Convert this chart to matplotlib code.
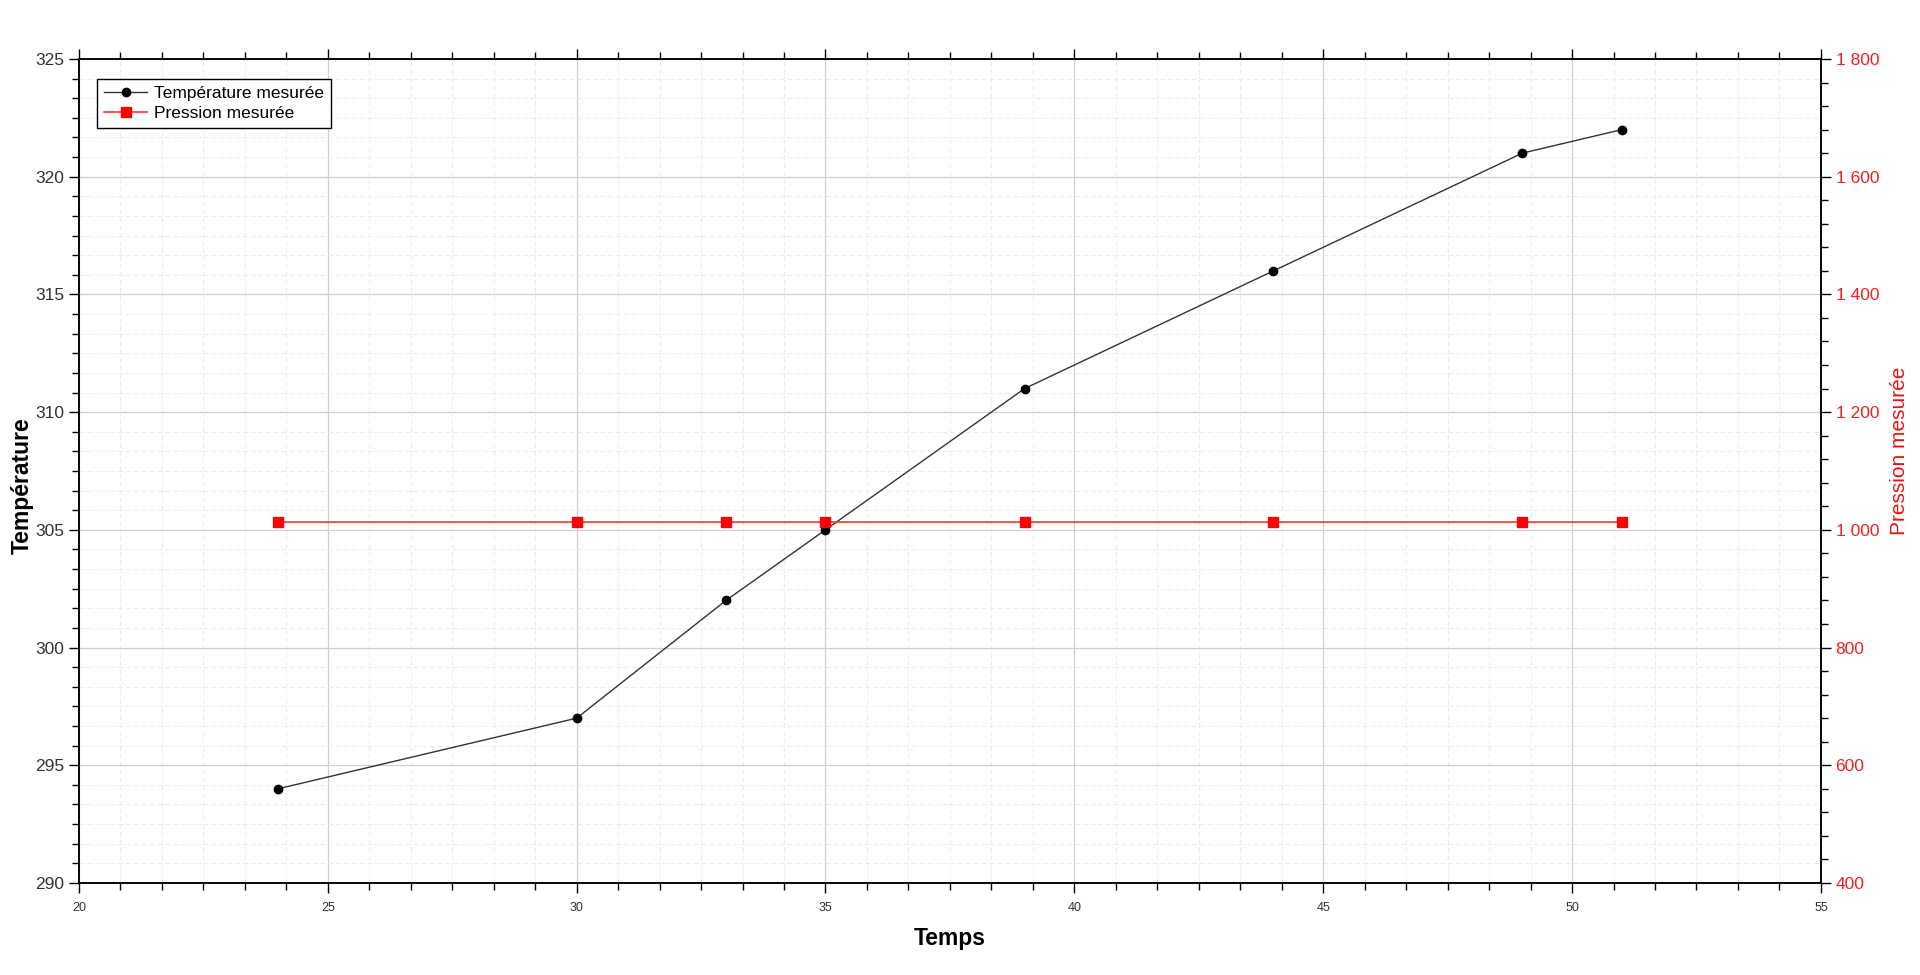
import numpy as np
import matplotlib.pyplot as plt
from matplotlib.ticker import MultipleLocator, AutoMinorLocator, FuncFormatter

plt.rcParams['font.family'] = ['Liberation Sans', 'DejaVu Sans']

# data
temps = [24, 30, 33, 35, 39, 44, 49, 51]
temperature = [294, 297, 302, 305, 311, 316, 321, 322]
pression = [1013, 1013, 1013, 1013, 1013, 1013, 1013, 1013]

fig = plt.figure(figsize=(19.2, 9.75), dpi=100)
ax = fig.add_axes([0.0411, 0.0944, 0.9073, 0.8451])
ax2 = ax.twinx()

l1, = ax.plot(temps, temperature, color='#333333', lw=1, marker='o', ms=6,
              mfc='black', mec='black', label='Température mesurée', zorder=3)
l2, = ax2.plot(temps, pression, color='#ff3333', lw=1.2, marker='s', ms=6.5,
               mfc='red', mec='red', label='Pression mesurée', zorder=3)

ax.set_xlim(20, 55)
ax.set_ylim(290, 325)
ax2.set_ylim(400, 1800)

ax.xaxis.set_major_locator(MultipleLocator(5))
ax.xaxis.set_minor_locator(AutoMinorLocator(6))
ax.yaxis.set_major_locator(MultipleLocator(5))
ax.yaxis.set_minor_locator(AutoMinorLocator(6))
ax2.yaxis.set_major_locator(MultipleLocator(200))
ax2.yaxis.set_minor_locator(AutoMinorLocator(5))
ax2.yaxis.set_major_formatter(FuncFormatter(lambda v, p: f'{int(v):,}'.replace(',', ' ')))

ax.grid(which='major', color='#d0d0d0', lw=0.9)
ax.grid(which='minor', color='#ececec', lw=0.7, ls=(0, (5, 3)))
ax.set_axisbelow(True)

ax.tick_params(axis='x', which='both', direction='out', top=True, labelsize=9,
               labelcolor='#333333', pad=7)
ax.tick_params(axis='x', which='major', length=7, width=1)
ax.tick_params(axis='x', which='minor', length=5, width=1)
ax.tick_params(axis='y', which='major', length=7, width=1, labelsize=12.5,
               labelcolor='#333333')
ax.tick_params(axis='y', which='minor', length=5, width=1)
ax2.tick_params(axis='y', which='major', length=7, width=1, labelsize=12.5,
                labelcolor='#ee2222')
ax2.tick_params(axis='y', which='minor', length=5, width=1)

for a in (ax, ax2):
    for s in a.spines.values():
        s.set_linewidth(1.1)
        s.set_color('black')

ax.set_xlabel('Temps', fontsize=16.5, fontweight='bold', labelpad=9)
ax.set_ylabel('Température', fontsize=16.5, fontweight='bold')
ax.yaxis.set_label_coords(-0.026, 0.482)
ax2.set_ylabel('Pression mesurée', fontsize=15, color='#ee1111')
ax2.yaxis.set_label_coords(1.0396, 0.524)

leg = ax.legend(handles=[l1, l2], loc='upper left', bbox_to_anchor=(0.0103, 0.9757),
                fontsize=12.5, frameon=True, fancybox=False, edgecolor='black',
                framealpha=1, borderpad=0.4, borderaxespad=0, handlelength=2.5,
                handletextpad=0.4, labelspacing=0.3)
leg.get_frame().set_linewidth(1)

fig.savefig('out.png', dpi=100)
